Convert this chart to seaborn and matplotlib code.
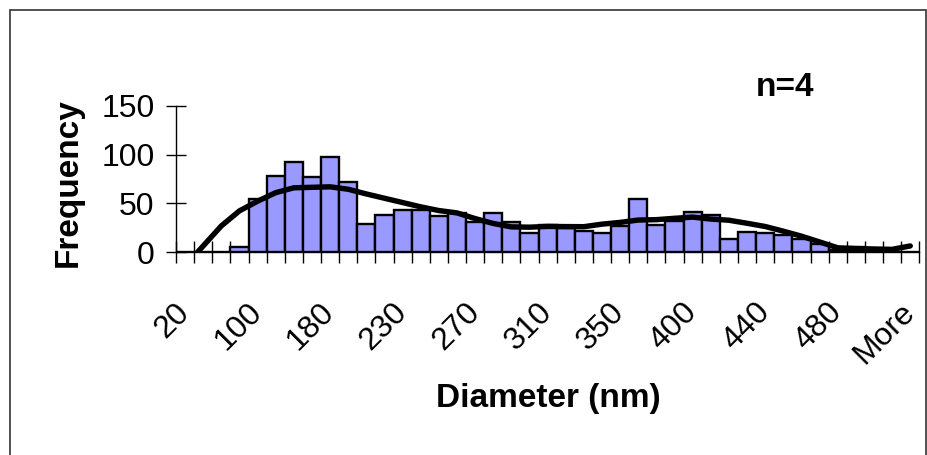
import matplotlib
matplotlib.use("Agg")
import matplotlib.pyplot as plt
from matplotlib.patches import Rectangle
import numpy as np
import pandas as pd
import seaborn as sns

# Histogram bins (upper edges, nm) and the count in each bin
bin_labels = ["20", "40", "60", "80", "100", "120", "140", "160", "180", "190",
              "200", "215", "230", "240", "250", "260", "270", "280", "290", "300",
              "310", "320", "330", "340", "350", "360", "370", "385", "400", "410",
              "420", "430", "440", "450", "460", "470", "480", "490", "500", "510",
              "More"]
frequency = [0, 0, 0, 5, 55, 78, 92, 77, 98, 72,
             29, 38, 43, 43, 37, 40, 31, 40, 31, 20,
             28, 25, 22, 20, 27, 55, 28, 32, 41, 38,
             14, 21, 20, 18, 14, 8, 2, 5, 0, 0,
             0]
# Smoothed trend of the distribution, one value per bin
trend = [-14, 6.5, 27, 42.4, 52.3, 61, 66, 66.5, 67, 64.5,
         59.7, 55.3, 50.9, 46.5, 42.7, 40.3, 34.5, 29.5, 26, 25.7,
         26.5, 26.3, 26.2, 28.8, 30.6, 33, 33.4, 34.8, 36, 34,
         32.8, 29.7, 26.4, 21.6, 16.5, 10.6, 4.6, 3.8, 3.4, 3,
         6.5]
y_ticks = [0, 50, 100, 150]
label_every = 4

sns.set_style("white")
plt.rcParams["font.family"] = ["Liberation Sans", "DejaVu Sans"]
plt.rcParams.update({"text.color": "black", "axes.labelcolor": "black",
                     "xtick.color": "black", "ytick.color": "black"})

W, H, DPI = 927, 455, 100
fig = plt.figure(figsize=(W / DPI, H / DPI), dpi=DPI)
fig.patch.set_facecolor("white")

ax = fig.add_axes([176 / W, 1 - 252.3 / H, (919.3 - 176) / W, (252.3 - 105.7) / H])

df = pd.DataFrame({"bin": bin_labels, "count": frequency})
sns.barplot(data=df, x="bin", y="count", order=bin_labels, color="#9999FF",
            saturation=1, width=1.0, edgecolor="black", linewidth=1.7, ax=ax)

pos = np.arange(len(bin_labels))
sns.lineplot(x=pos, y=trend, color="black", linewidth=3.9, ax=ax,
             solid_capstyle="round", solid_joinstyle="round")

ax.set_xlim(-0.5, len(bin_labels) - 0.5)
ax.set_ylim(0, 150)

# axis lines
for s in ["top", "right"]:
    ax.spines[s].set_visible(False)
for s in ["left", "bottom"]:
    ax.spines[s].set_color("black")
    ax.spines[s].set_linewidth(1.0)

# y ticks cross the axis
ax.set_yticks(y_ticks)
ax.set_yticklabels([str(v) for v in y_ticks], fontsize=23)
ax.tick_params(axis="y", left=True, direction="inout", length=15, width=1.0,
               pad=8, colors="black")

# x: tick marks on bin boundaries, labels on every 4th bin
ax.set_xticks(pos[::label_every])
ax.set_xticklabels(bin_labels[::label_every], fontsize=23, rotation=45,
                   ha="right", va="center", rotation_mode="anchor")
ax.tick_params(axis="x", which="major", bottom=True, length=0, pad=40)
ax.set_xticks(np.arange(len(bin_labels) + 1) - 0.5, minor=True)
ax.tick_params(axis="x", which="minor", bottom=True, direction="inout",
               length=16, width=1.0, color="black")

ax.set_xlabel("")
ax.set_ylabel("")
ax.grid(False)

fig.text(68 / W, 1 - 183 / H, "Frequency", rotation=90, fontsize=24,
         fontweight="bold", ha="center", va="center")
fig.text(548 / W, 1 - 398 / H, "Diameter (nm)", fontsize=24,
         fontweight="bold", ha="center", va="center")
fig.text(785 / W, 1 - 88 / H, "n=4", fontsize=24,
         fontweight="bold", ha="center", va="center")

# chart frame
fig.add_artist(Rectangle((9.5 / W, -0.02), (926 - 9.5) / W, 1.02 - 10 / H,
                         transform=fig.transFigure, fill=False,
                         edgecolor="#333333", linewidth=1.2))

fig.savefig("out.png", dpi=DPI, facecolor="white")
